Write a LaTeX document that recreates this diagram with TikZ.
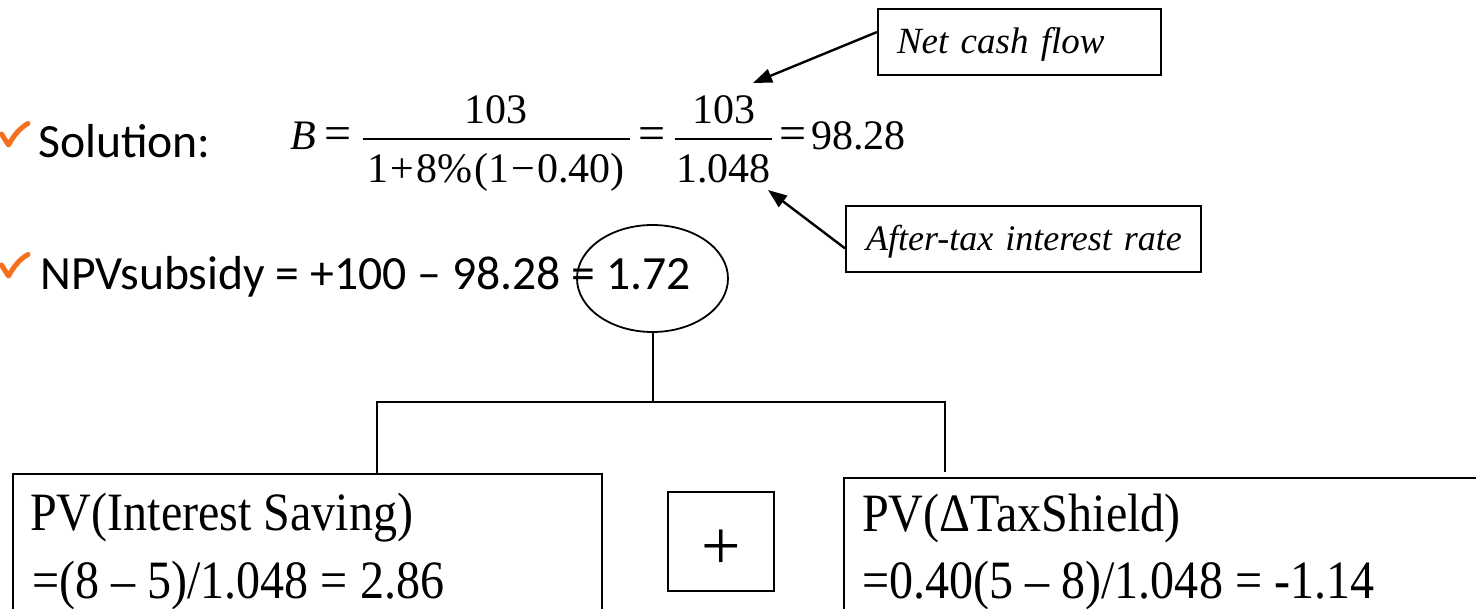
\documentclass[tikz,border=0pt]{standalone}
\usepackage{fontspec}
\setmainfont{Liberation Serif}
\newfontfamily\calib{Carlito}
\newfontfamily\tmsbox[FakeStretch=0.89]{Liberation Serif}
\usetikzlibrary{shapes.geometric,arrows.meta,calc}
\definecolor{chk}{HTML}{F5701E}
\newdimen\frw
\newcommand\myfr[3]{%
 \setbox0\hbox{#2}\setbox2\hbox{#3}%
 \frw=\wd0 \ifdim\wd2>\frw \frw=\wd2\fi
 \advance\frw by #1
 \rlap{\raisebox{26pt}{\hbox to\frw{\hss\box0\hss}}}%
 \rlap{\raisebox{-33pt}{\hbox to\frw{\hss\box2\hss}}}%
 \rlap{\raisebox{10pt}{\rule{\frw}{1.8pt}}}%
 \kern\frw}
\newcommand\eqs{{\fontsize{48}{50}\selectfont =}}
\tikzset{
  boxline/.style={draw, line width=2pt},
  conn/.style={line width=2pt},
  arr/.style={line width=2.4pt, -{Triangle[length=19pt,width=14pt]}},
  calltext/.style={boxline, inner ysep=0pt, align=left, text height=30pt, text depth=6pt,
     anchor=north west},
  bullettext/.style={anchor=base west, inner sep=0pt, font=\calib\fontsize{47.7}{58}\selectfont},
  lowtext/.style={anchor=base west, inner sep=0pt, font=\tmsbox\fontsize{54}{64}\selectfont},
  chkmark/.pic={\draw[chk, line width=5pt, line cap=round, line join=round]
     (1.5,12) -- (8.5,23) .. controls (14,13) and (20,6) .. (28,1.5);}
}
\begin{document}
\begin{tikzpicture}[x=1pt,y=-1pt]
\useasboundingbox (0,0) rectangle (1476,609);
\clip (0,0) rectangle (1476,609);

% bullets
\pic at (0,122) {chkmark};
\pic at (0,253) {chkmark};
\node[bullettext] (sol) at (38,158) {Solution:};
\node[bullettext] (npv) at (40,290) {NPVsubsidy = +100 – 98.28 = 1.72};

% equation
\node[anchor=base west, inner sep=0pt, font=\fontsize{42}{49}\selectfont] (eq) at (290,150)
 {\textit{B}\kern9pt\eqs\kern11pt\myfr{10pt}{103}{1\kern2pt+\kern2pt8\%\kern2pt(1\kern2pt−\kern2pt0.40)}\kern9pt\eqs\kern9pt\myfr{3pt}{103}{1.048}\kern7pt\eqs\kern5pt98.28};

% callouts
\node[calltext, minimum width=283pt, minimum height=66pt, text width=245pt, inner xsep=19pt,
      font=\fontsize{37}{45}\selectfont\itshape] (ncf) at (877,8) {Net cash flow};
\node[calltext, minimum width=355pt, minimum height=66pt, text width=335pt, inner xsep=10pt,
      font=\fontsize{36}{44}\selectfont\itshape] (atr) at (845,205) {\hspace*{10pt}After-tax interest rate};
\coordinate (ncftip) at (753,83);
\coordinate (attip) at (768,190);
\draw[arr] (ncf.176.8) -- (ncftip);
\draw[arr] (atr.183.9) -- (attip);

% ellipse and tree
\node[draw, ellipse, line width=1.8pt, minimum width=151pt, minimum height=107pt, inner sep=0pt] (ell) at (652.5,278.5) {};
\coordinate (jl) at (377,402);
\coordinate (jr) at (945,402);
\coordinate (rend) at (945,472);

\node[boxline, anchor=north west, minimum width=589pt, minimum height=220pt, inner sep=0pt] (lbox) at (12,473) {};
\node[boxline, anchor=north west, minimum width=700pt, minimum height=220pt, inner sep=0pt] (rbox) at (843,477) {};
\node[boxline, minimum width=106pt, minimum height=99pt, inner sep=0pt, text height=55pt, text depth=0pt,
      font=\fontsize{70}{80}\selectfont] (plus) at (721,541.5) {+};

\draw[conn] (ell.south) -- (ell.south |- jl);
\draw[conn] (jl |- lbox.north) -- (jl) -- (jr) -- (rend);

\node[lowtext] (l1) at (30,530) {PV(Interest Saving)};
\node[lowtext] (l2) at (32,598) {=(8 – 5)/1.048 = 2.86};
\node[lowtext] (r1) at (862,532) {PV(ΔTaxShield)};
\node[lowtext] (r2) at (862,598) {=0.40(5 – 8)/1.048 = -1.14};
\end{tikzpicture}
\end{document}
